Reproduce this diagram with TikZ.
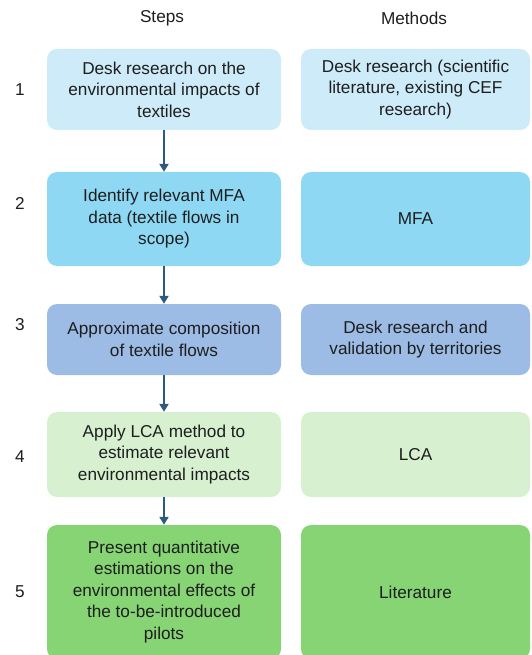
\documentclass[tikz,border=0pt]{standalone}
\usepackage{fontspec}
\setmainfont{Liberation Sans}
\usetikzlibrary{arrows.meta}
\definecolor{boxA}{HTML}{CDEBF8}
\definecolor{boxB}{HTML}{8ED8F4}
\definecolor{boxC}{HTML}{9CBCE6}
\definecolor{boxD}{HTML}{D7F0D0}
\definecolor{boxE}{HTML}{86D473}
\definecolor{arrowblue}{HTML}{2D5B80}
\definecolor{txt}{HTML}{1E1E1E}
\tikzset{
  stepbox/.style={rounded corners=10pt,inner sep=0pt,align=center,text=txt,
    font=\fontsize{17.2}{21.5}\selectfont},
  numlabel/.style={text=txt,font=\fontsize{17.2}{20}\selectfont},
  flow/.style={arrowblue,line width=2pt,-{Triangle[width=9pt,length=8pt]}}
}
\begin{document}
\begin{tikzpicture}[x=1pt,y=-1pt]
\useasboundingbox (0,0) rectangle (532,655);
\node[numlabel] (hsteps) at (162,18) {Steps};
\node[numlabel] (hmethods) at (414,18) {Methods};

\node[stepbox,fill=boxA,minimum width=234pt,minimum height=81pt] (s1) at (164,89.5) {Desk research on the\\environmental impacts of\\textiles};% Step 1
\node[stepbox,fill=boxA,minimum width=229pt,minimum height=81pt] (m1) at (415.5,89.5) {Desk research (scientific\\literature, existing CEF\\research)};
\node[stepbox,fill=boxB,minimum width=234pt,minimum height=94pt] (s2) at (164,219) {Identify relevant MFA\\data (textile flows in\\scope)};% Step 2
\node[stepbox,fill=boxB,minimum width=229pt,minimum height=94pt] (m2) at (415.5,219) {MFA};
\node[stepbox,fill=boxC,minimum width=234pt,minimum height=71pt] (s3) at (164,339.5) {Approximate composition\\of textile flows};% Step 3
\node[stepbox,fill=boxC,minimum width=229pt,minimum height=71pt] (m3) at (415.5,339.5) {Desk research and\\validation by territories};
\node[stepbox,fill=boxD,minimum width=234pt,minimum height=85pt] (s4) at (164,454.5) {Apply LCA method to\\estimate relevant\\environmental impacts};% Step 4
\node[stepbox,fill=boxD,minimum width=229pt,minimum height=85pt] (m4) at (415.5,454.5) {LCA};
\node[stepbox,fill=boxE,minimum width=234pt,minimum height=134pt] (s5) at (164,592) {Present quantitative\\estimations on the\\environmental effects of\\the to-be-introduced\\pilots};% Step 5
\node[stepbox,fill=boxE,minimum width=229pt,minimum height=134pt] (m5) at (415.5,592) {Literature};

\foreach \i/\y in {1/89.5,2/203,3/325,4/457,5/592}{
  \node[numlabel] (n\i) at (20,\y) {\i};
}

\draw[flow] (s1.south) -- (s2.north);
\draw[flow] (s2.south) -- (s3.north);
\draw[flow] (s3.south) -- (s4.north);
\draw[flow] (s4.south) -- (s5.north);
\end{tikzpicture}
\end{document}
